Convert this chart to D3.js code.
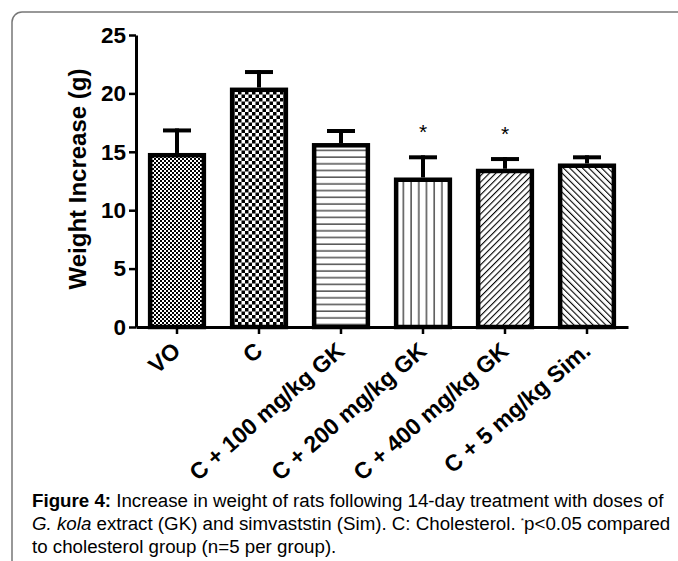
<!DOCTYPE html>
<html lang="en">
<head>
    <meta charset="UTF-8">
    <title>Weight Increase</title>
    <script src="https://d3js.org/d3.v7.min.js"></script>
    <style>
        body { margin: 0; background: #fff; }
        svg { display: block; font-family: Arial, "Liberation Sans", sans-serif; }
    </style>
</head>
<body>
    <div id="chart"></div>
    <script>
        // values
        const groups = ["VO", "C", "C + 100 mg/kg GK", "C + 200 mg/kg GK", "C + 400 mg/kg GK", "C + 5 mg/kg Sim."];
        const means = [14.9, 20.5, 15.75, 12.8, 13.55, 14.0];
        const errors = [2.1, 1.5, 1.2, 1.9, 1.0, 0.7];
        const significant = [false, false, false, true, true, false];
        const patterns = ["fineCheck", "coarseCheck", "hLines", "vLines", "fwdDiag", "backDiag"];
        const yTicks = [0, 5, 10, 15, 20, 25];

        const W = 678, H = 561;
        const svg = d3.select("#chart").append("svg")
            .attr("width", W)
            .attr("height", H);

        // frame with rounded corner
        svg.append("rect")
            .attr("x", 12).attr("y", 12)
            .attr("width", 720).attr("height", 620)
            .attr("rx", 10)
            .attr("fill", "none")
            .attr("stroke", "#777")
            .attr("stroke-width", 1.5);

        // fill patterns
        const defs = svg.append("defs");
        let p = defs.append("pattern").attr("id", "fineCheck").attr("patternUnits", "userSpaceOnUse").attr("width", 4).attr("height", 4);
        p.append("rect").attr("width", 4).attr("height", 4).attr("fill", "#fff");
        p.append("rect").attr("width", 2).attr("height", 2).attr("fill", "#000");
        p.append("rect").attr("x", 2).attr("y", 2).attr("width", 2).attr("height", 2).attr("fill", "#000");

        p = defs.append("pattern").attr("id", "coarseCheck").attr("patternUnits", "userSpaceOnUse").attr("width", 7).attr("height", 7);
        p.append("rect").attr("width", 7).attr("height", 7).attr("fill", "#fff");
        p.append("rect").attr("width", 3.5).attr("height", 3.5).attr("fill", "#000");
        p.append("rect").attr("x", 3.5).attr("y", 3.5).attr("width", 3.5).attr("height", 3.5).attr("fill", "#000");

        p = defs.append("pattern").attr("id", "hLines").attr("patternUnits", "userSpaceOnUse").attr("width", 10).attr("height", 6.7);
        p.append("rect").attr("width", 10).attr("height", 6.7).attr("fill", "#fff");
        p.append("line").attr("x1", 0).attr("x2", 10).attr("y1", 3).attr("y2", 3).attr("stroke", "#222").attr("stroke-width", 1.2);

        p = defs.append("pattern").attr("id", "vLines").attr("patternUnits", "userSpaceOnUse").attr("width", 7.7).attr("height", 10);
        p.append("rect").attr("width", 7.7).attr("height", 10).attr("fill", "#fff");
        p.append("line").attr("x1", 3).attr("x2", 3).attr("y1", 0).attr("y2", 10).attr("stroke", "#333").attr("stroke-width", 1.3);

        p = defs.append("pattern").attr("id", "fwdDiag").attr("patternUnits", "userSpaceOnUse").attr("width", 4.5).attr("height", 4.5)
            .attr("patternTransform", "rotate(45)");
        p.append("rect").attr("width", 4.5).attr("height", 4.5).attr("fill", "#fff");
        p.append("line").attr("x1", 0).attr("x2", 0).attr("y1", 0).attr("y2", 4.5).attr("stroke", "#000").attr("stroke-width", 2.2);

        p = defs.append("pattern").attr("id", "backDiag").attr("patternUnits", "userSpaceOnUse").attr("width", 4.5).attr("height", 4.5)
            .attr("patternTransform", "rotate(-45)");
        p.append("rect").attr("width", 4.5).attr("height", 4.5).attr("fill", "#fff");
        p.append("line").attr("x1", 0).attr("x2", 0).attr("y1", 0).attr("y2", 4.5).attr("stroke", "#000").attr("stroke-width", 2.2);

        // scales
        const x = d3.scaleBand()
            .domain(groups)
            .range([136, 628])
            .paddingInner(0.29)
            .paddingOuter(0.145);

        const y = d3.scaleLinear()
            .domain([0, 25])
            .range([327, 35]);

        // bars
        const bw = x.bandwidth();
        const bars = svg.append("g");
        groups.forEach((g, i) => {
            const cx = x(g) + bw / 2;
            const top = y(means[i] + errors[i]);
            // error bar
            bars.append("line")
                .attr("x1", cx).attr("x2", cx)
                .attr("y1", y(means[i])).attr("y2", top)
                .attr("stroke", "#000").attr("stroke-width", 4);
            bars.append("line")
                .attr("x1", cx - 14).attr("x2", cx + 14)
                .attr("y1", top + 2).attr("y2", top + 2)
                .attr("stroke", "#000").attr("stroke-width", 4);
            bars.append("rect")
                .attr("x", x(g) + 2.25)
                .attr("y", y(means[i]) + 2.25)
                .attr("width", bw - 4.5)
                .attr("height", y(0) - y(means[i]) - 2.25)
                .attr("fill", "url(#" + patterns[i] + ")")
                .attr("stroke", "#000")
                .attr("stroke-width", 4.5);
            if (significant[i]) {
                bars.append("text")
                    .attr("x", cx).attr("y", top - 16)
                    .attr("text-anchor", "middle")
                    .attr("font-size", 21)
                    .text("*");
            }
        });

        // y axis
        const yAxis = svg.append("g")
            .attr("transform", "translate(136,0)")
            .call(d3.axisLeft(y).tickValues(yTicks).tickSize(7).tickPadding(3).tickSizeOuter(0));
        yAxis.select(".domain").attr("stroke-width", 3);
        yAxis.selectAll(".tick line").attr("stroke-width", 2.5);
        yAxis.selectAll(".tick text")
            .attr("font-size", 22.5)
            .attr("font-weight", "bold")
            .attr("font-family", "Arial, 'Liberation Sans', sans-serif")
            .attr("fill", "#000");

        // x axis
        const xAxis = svg.append("g")
            .attr("transform", "translate(0,327)")
            .call(d3.axisBottom(x).tickSize(7).tickSizeOuter(0));
        xAxis.select(".domain").attr("stroke-width", 3);
        xAxis.selectAll(".tick line").attr("stroke-width", 2.5);
        xAxis.selectAll(".tick text")
            .attr("font-size", 23)
            .attr("font-weight", "bold")
            .attr("font-family", "Arial, 'Liberation Sans', sans-serif")
            .attr("fill", "#000")
            .attr("text-anchor", "end")
            .attr("dy", 0)
            .attr("y", 0)
            .attr("transform", "translate(5,26) rotate(-41)");

        // y axis title
        svg.append("text")
            .attr("transform", "translate(86,179) rotate(-90)")
            .attr("text-anchor", "middle")
            .attr("font-size", 24)
            .attr("font-weight", "bold")
            .text("Weight Increase (g)");

        // caption
        const cap = svg.append("g")
            .attr("transform", "translate(32,0) scale(1.04,1)")
            .attr("font-size", 18).attr("fill", "#000");
        const l1 = cap.append("text").attr("x", 0).attr("y", 507);
        l1.append("tspan").attr("font-weight", "bold").text("Figure 4:");
        l1.append("tspan").text(" Increase in weight of rats following 14-day treatment with doses of");
        const l2 = cap.append("text").attr("x", 0).attr("y", 530);
        l2.append("tspan").attr("font-style", "italic").text("G. kola");
        l2.append("tspan").text(" extract (GK) and simvaststin (Sim). C: Cholesterol. ");
        l2.append("tspan").attr("font-size", 8).attr("dy", -7).text("*");
        l2.append("tspan").attr("dy", 7).text("p<0.05 compared");
        cap.append("text").attr("x", 0).attr("y", 553).text("to cholesterol group (n=5 per group).");
    </script>
</body>
</html>
